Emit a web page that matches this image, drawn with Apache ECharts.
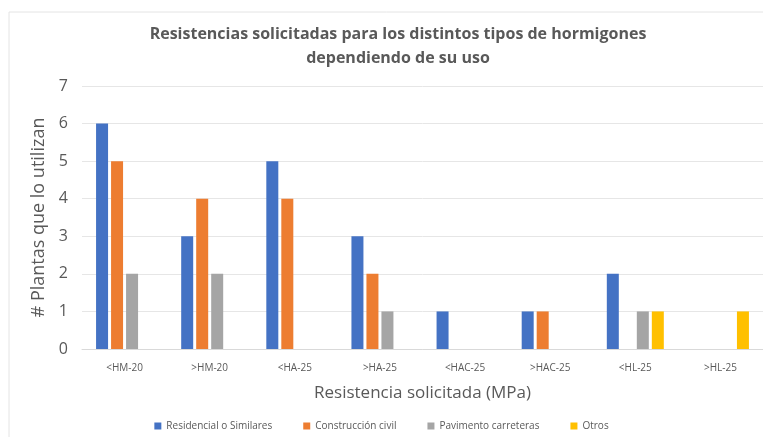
<!DOCTYPE html>
<html>
<head>
<meta charset="utf-8">
<script src="https://cdn.jsdelivr.net/npm/echarts@6/dist/echarts.min.js"></script>
<style>
  html, body { margin: 0; padding: 0; background: #fff; }
  #main { width: 763px; height: 437px; }
</style>
</head>
<body>
<div id="main"></div>
<script>
var categories = ['<HM-20', '>HM-20', '<HA-25', '>HA-25', '<HAC-25', '>HAC-25', '<HL-25', '>HL-25'];
var residencial = [6, 3, 5, 3, 1, 1, 2, 0];
var construccion = [5, 4, 4, 2, 0, 1, 0, 0];
var pavimento = [2, 2, 0, 1, 0, 0, 1, 0];
var otros = [0, 0, 0, 0, 0, 0, 1, 1];
var yTicks = [0, 1, 2, 3, 4, 5, 6, 7];

var myChart = echarts.init(document.getElementById('main'));
var fontFam = 'Open Sans';

function serie(name, data, color) {
    return {
        name: name,
        type: 'bar',
        data: data,
        barWidth: 12,
        barGap: '25%',
        itemStyle: { color: color }
    };
}

myChart.setOption({
    backgroundColor: '#fff',
    animation: false,
    textStyle: { fontFamily: fontFam },
    graphic: [{
        type: 'rect',
        shape: { x: 9, y: 12, width: 760, height: 440 },
        style: { fill: 'none', stroke: '#e4e4e4', lineWidth: 1 },
        z: -1
    }],
    title: {
        text: 'Resistencias solicitadas para los distintos tipos de hormigones\ndependiendo de su uso',
        left: 393,
        top: 17,
        textAlign: 'center',
        textStyle: {
            fontFamily: fontFam,
            fontSize: 16,
            fontWeight: 'bold',
            color: '#595959',
            lineHeight: 24
        }
    },
    legend: {
        bottom: 1,
        left: 'center',
        itemWidth: 7,
        itemHeight: 7,
        itemGap: 31,
        icon: 'rect',
        textStyle: { fontSize: 10, color: '#595959' },
        data: ['Residencial o Similares', 'Construcción civil', 'Pavimento carreteras', 'Otros']
    },
    grid: {
        left: 82,
        right: 0,
        top: 86,
        bottom: 88
    },
    xAxis: {
        type: 'category',
        data: categories,
        name: 'Resistencia solicitada (MPa)',
        nameLocation: 'middle',
        nameGap: 36,
        nameTextStyle: { fontSize: 17, color: '#595959' },
        axisLine: { lineStyle: { color: '#d9d9d9' } },
        axisTick: { show: false },
        axisLabel: { fontSize: 10, color: '#595959', margin: 14 }
    },
    yAxis: {
        type: 'value',
        min: yTicks[0],
        max: yTicks[yTicks.length - 1],
        interval: 1,
        name: '# Plantas que lo utilizan',
        nameLocation: 'middle',
        nameGap: 30,
        nameTextStyle: { fontSize: 18, color: '#595959' },
        axisLine: { show: false },
        axisTick: { show: false },
        axisLabel: { fontSize: 16, color: '#595959', margin: 14 },
        splitLine: { lineStyle: { color: '#e6e6e6' } }
    },
    series: [
        serie('Residencial o Similares', residencial, '#4472C4'),
        serie('Construcción civil', construccion, '#ED7D31'),
        serie('Pavimento carreteras', pavimento, '#A5A5A5'),
        serie('Otros', otros, '#FFC000')
    ]
});
</script>
</body>
</html>
